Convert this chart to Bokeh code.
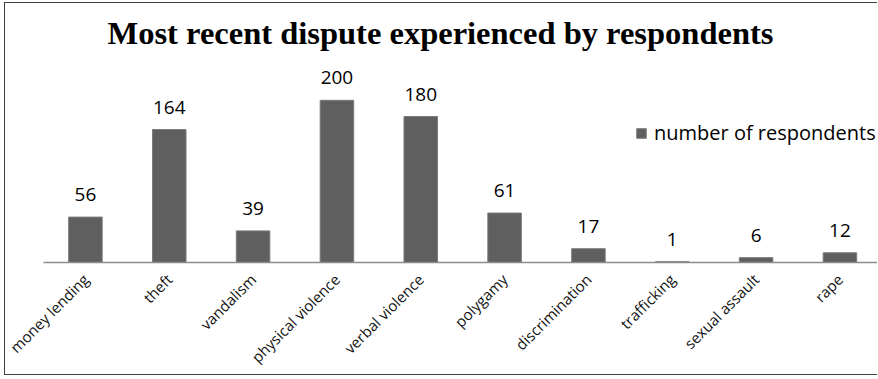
from math import pi

from bokeh.core.properties import value
from bokeh.embed import file_html
from bokeh.models import ColumnDataSource, FixedTicker, Label, Legend, LegendItem, Range1d
from bokeh.plotting import figure
from bokeh.resources import INLINE

# --- data -------------------------------------------------------------------
categories = [
    "money lending", "theft", "vandalism", "physical violence", "verbal violence",
    "polygamy", "discrimination", "trafficking", "sexual assault", "rape",
]
respondents = [56, 164, 39, 200, 180, 61, 17, 1, 6, 12]
series_name = "number of respondents"
title_text = "Most recent dispute experienced by respondents"

positions = list(range(len(categories)))
source = ColumnDataSource(dict(
    x=positions,
    y=respondents,
    label=[str(v) for v in respondents],
))

# --- figure -----------------------------------------------------------------
p = figure(
    width=873, height=373,
    x_range=Range1d(-0.5, 9.46), y_range=Range1d(0, 319.4),
    output_backend="svg", toolbar_location=None, y_axis_location=None,
    min_border_left=38, min_border_right=0, min_border_top=0, min_border_bottom=114,
    background_fill_color="white", border_fill_color="white", outline_line_color=None,
)
p.styles = {
    "margin-left": "4px",
    "margin-top": "2px",
    "border-left": "1px solid #404040",
    "border-top": "1px solid #404040",
    "border-bottom": "1px solid #404040",
}
p.xgrid.visible = False
p.ygrid.visible = False

bars = p.vbar(
    x="x", top="y", width=0.4, source=source,
    fill_color="#5f5f5f", line_color="#7c7c7c", line_width=1,
)

# value labels above each bar
p.text(
    x="x", y="y", text="label", source=source,
    text_align="center", text_baseline="bottom", y_offset=-16,
    text_font=value("Open Sans"), text_font_size="19px", text_color="black",
)

# --- x axis -----------------------------------------------------------------
ax = p.xaxis[0]
ax.ticker = FixedTicker(ticks=positions)
ax.major_label_overrides = {i: c for i, c in enumerate(categories)}
ax.major_label_orientation = pi / 4
ax.major_tick_line_color = None
ax.minor_tick_line_color = None
ax.major_tick_out = 0
ax.major_tick_in = 0
ax.axis_line_color = "#8c8c8c"
ax.axis_line_width = 1.5
ax.major_label_standoff = 14
ax.major_label_text_font = "Open Sans"
ax.major_label_text_font_size = "15px"
ax.major_label_text_color = "#111111"

# --- title ------------------------------------------------------------------
p.add_layout(Label(
    x=397, y=230, x_units="screen", y_units="screen", text=title_text,
    text_align="center", text_baseline="alphabetic",
    text_font="Liberation Serif", text_font_style="bold", text_font_size="32.5px",
    text_color="black",
))

# --- legend -----------------------------------------------------------------
legend = Legend(
    items=[LegendItem(label=series_name, renderers=[bars])],
    location=(592, 116),
    glyph_width=12, glyph_height=12, label_standoff=7,
    padding=0, margin=0, spacing=0,
    border_line_color=None, background_fill_alpha=0,
    label_text_font="Open Sans", label_text_font_size="20px", label_text_color="black",
)
p.add_layout(legend)

open("out.html", "w").write(file_html(p, INLINE))
